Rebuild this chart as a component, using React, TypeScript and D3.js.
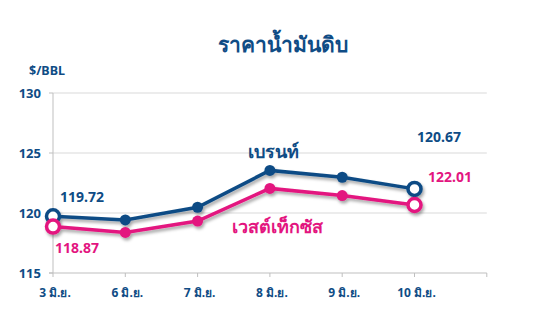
import React from "react";
import * as d3 from "d3";

const categories = ["3 มิ.ย.", "6 มิ.ย.", "7 มิ.ย.", "8 มิ.ย.", "9 มิ.ย.", "10 มิ.ย."];
const brent = [119.72, 119.42, 120.48, 123.55, 122.98, 122.01];
const wti = [118.87, 118.38, 119.33, 122.05, 121.45, 120.67];
const yTicks = [115, 120, 125, 130];

const W = 535, H = 325;
const NAVY = "#0f4c85";
const PINK = "#e3157f";
const FONT = "'Noto Sans', 'DejaVu Sans', sans-serif";

export default function App() {
  const x0 = 53, step = 72.3;
  const x = (i: number) => x0 + i * step;
  const xEnd = x(6);
  const y = d3.scaleLinear().domain([115, 130]).range([273, 93]);
  const line = d3.line<number>().x((_, i) => x(i)).y((d) => y(d));
  const last = categories.length - 1;

  const series = [
    { data: brent, color: NAVY },
    { data: wti, color: PINK },
  ];

  return (
    <div style={{ position: "absolute", left: 0, top: 0 }}>
      <svg width={W} height={H} style={{ display: "block", fontFamily: FONT }}>
        <defs>
          <filter id="sh" x="-10%" y="-20%" width="130%" height="160%">
            <feDropShadow dx="1.5" dy="2.5" stdDeviation="1.6" floodColor="#000" floodOpacity="0.35" />
          </filter>
        </defs>
        <rect width={W} height={H} fill="#fff" />
        <text x={283} y={52} textAnchor="middle" fontSize={21} fontWeight="bold" fill={NAVY}>ราคาน้ำมันดิบ</text>
        <text x={29} y={75} fontSize={12.5} fontWeight="bold" fill={NAVY}>$/BBL</text>

        {yTicks.map((t) => (
          <g key={t}>
            {t !== 115 && <line x1={x0} x2={xEnd} y1={y(t)} y2={y(t)} stroke="#d9d9d9" strokeWidth={1.2} />}
            <line x1={x0 - 4} x2={x0} y1={y(t)} y2={y(t)} stroke="#bfbfbf" strokeWidth={1} />
            <text x={41} y={y(t)} dy="0.35em" textAnchor="end" fontSize={13} fontWeight="bold" fill={NAVY}>{t}</text>
          </g>
        ))}
        <line x1={x0} x2={x0} y1={y(130)} y2={y(115)} stroke="#bfbfbf" strokeWidth={1} />
        <line x1={x0 - 4} x2={xEnd} y1={y(115)} y2={y(115)} stroke="#bfbfbf" strokeWidth={1.2} />
        {d3.range(7).map((i) => (
          <line key={i} x1={x(i)} x2={x(i)} y1={y(115)} y2={y(115) + 4} stroke="#bfbfbf" strokeWidth={1} />
        ))}
        {categories.map((c, i) => (
          <text key={c} x={x(i) + 2} y={297} textAnchor="middle" fontSize={12} fontWeight="bold" fill={NAVY}>{c}</text>
        ))}

        {series.map((s, k) => (
          <g key={k} filter="url(#sh)">
            <path d={line(s.data) || ""} fill="none" stroke={s.color} strokeWidth={3.5} />
            {s.data.map((v, i) =>
              i === 0 || i === last ? (
                <circle key={i} cx={x(i)} cy={y(v)} r={6.5} fill="#fff" stroke={s.color} strokeWidth={3.5} />
              ) : (
                <circle key={i} cx={x(i)} cy={y(v)} r={5.5} fill={s.color} />
              )
            )}
          </g>
        ))}

        <text x={60} y={202} fontSize={14} fontWeight="bold" fill={NAVY}>{brent[0].toFixed(2)}</text>
        <text x={55} y={253} fontSize={14} fontWeight="bold" fill={PINK}>{wti[0].toFixed(2)}</text>
        <text x={417} y={142} fontSize={14} fontWeight="bold" fill={NAVY}>{wti[last].toFixed(2)}</text>
        <text x={428} y={182} fontSize={14} fontWeight="bold" fill={PINK}>{brent[last].toFixed(2)}</text>
        <text x={248} y={158} fontSize={18} fontWeight="bold" fill={NAVY}>เบรนท์</text>
        <text x={232} y={233} fontSize={18} fontWeight="bold" fill={PINK}>เวสต์เท็กซัส</text>
      </svg>
    </div>
  );
}
